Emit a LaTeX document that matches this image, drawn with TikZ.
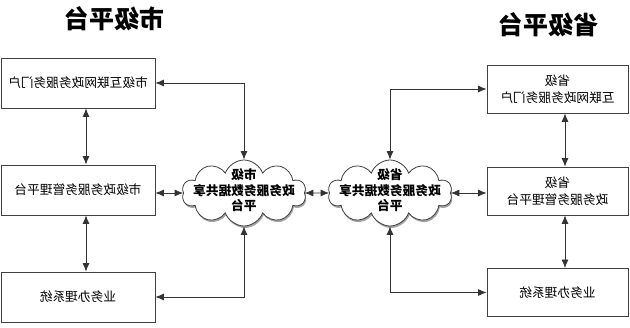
\documentclass[tikz,border=0pt]{standalone}
\usepackage{fontspec}
\usepackage{tikz}
\usepackage{xcolor}
\usetikzlibrary{shapes.symbols,arrows.meta,shadows}
\newfontfamily\cjk{Noto Sans CJK SC}

\begin{document}
\begin{tikzpicture}[x=1pt, y=-1pt, xscale=-1, transform shape,
    platbox/.style={draw=black!75, line width=0.8pt, minimum height=50pt, align=center,
        inner sep=0pt, font=\cjk\fontsize{12.7}{17}\selectfont},
    sharecloud/.style={cloud, cloud puffs=10, cloud puff arc=140, cloud ignores aspect,
        draw=black!75, line width=0.8pt, fill=white, minimum width=124pt, minimum height=66pt,
        inner sep=0pt, drop shadow={shadow xshift=1pt, shadow yshift=-2pt, opacity=0.6, fill=black!60},
        font=\cjk\bfseries\fontsize{12.7}{15.5}\selectfont},
    title/.style={font=\cjk\bfseries\fontsize{25}{25}\selectfont},
    link/.style={<->, >={Latex[length=8.5pt,width=7pt]}, line width=0.8pt, draw=black!80}]
    \useasboundingbox (0,0) rectangle (630,328);
    % titles
    \node[title] (cityTitle) at (515,19) {市级平台};
    \node[title] (provTitle) at (81,25) {省级平台};
    % city column
    \node[platbox, minimum width=154pt] (cityPortal) at (552,83) {市级互联网政务服务门户};
    \node[platbox, minimum width=154pt] (cityMgmt) at (552,190) {市级政务服务管理平台};
    \node[platbox, minimum width=154pt] (citySys) at (552,297) {业务办理系统};
    % share clouds
    \node[sharecloud] (cityCloud) at (386,193)
        {\makebox[0pt]{\smash{\raisebox{-2pt}{\begin{tabular}{@{}c@{}}市级\\政务服务数据共享\\平台\end{tabular}}}}};
    \node[sharecloud] (provCloud) at (240,193)
        {\makebox[0pt]{\smash{\raisebox{-2pt}{\begin{tabular}{@{}c@{}}省级\\政务服务数据共享\\平台\end{tabular}}}}};
    % province column
    \node[platbox, minimum width=141pt, minimum height=48pt] (provPortal) at (72.5,89) {省级\\互联网政务服务门户};
    \node[platbox, minimum width=141pt, minimum height=48pt] (provMgmt) at (72.5,191) {省级\\政务服务管理平台};
    \node[platbox, minimum width=141pt, minimum height=48pt] (provSys) at (72.5,292.5) {业务办理系统};

    \draw[link] ([xshift=-8pt]cityPortal.south) -- ([xshift=-8pt]cityMgmt.north);
    \draw[link] ([xshift=-8pt]cityMgmt.south) -- ([xshift=-8pt]citySys.north);
    \draw[link] ([xshift=-7.5pt]provPortal.south) -- ([xshift=-7.5pt]provMgmt.north);
    \draw[link] ([xshift=-7.5pt]provMgmt.south) -- ([xshift=-7.5pt]provSys.north);

    \draw[link] (cityPortal.west) -| (cityCloud.north);
    \draw[link] (cityCloud.east) -- (cityCloud.east -| cityMgmt.west);
    \draw[link] (citySys.west) -| (cityCloud.south);
    \draw[link] (cityCloud.west) -- (provCloud.east);
    \draw[link] (provPortal.east) -| (provCloud.north);
    \draw[link] (provCloud.west) -- (provCloud.west -| provMgmt.east);
    \draw[link] (provSys.east) -| (provCloud.south);
\end{tikzpicture}
\end{document}
